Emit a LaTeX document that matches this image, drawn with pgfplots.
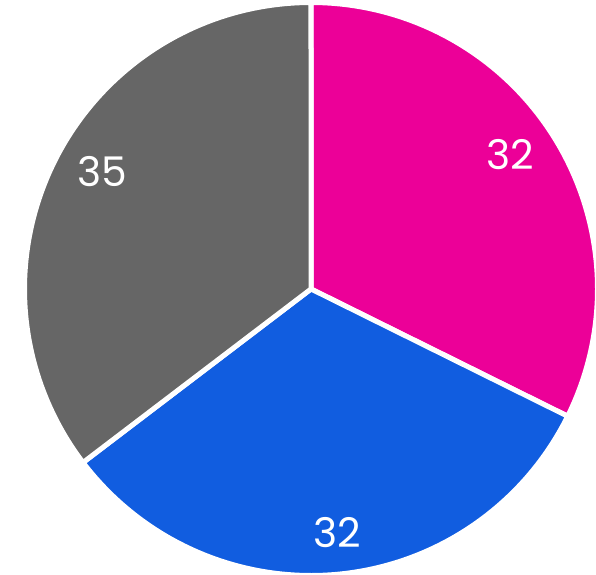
\documentclass[border=0pt]{standalone}
\usepackage{pgfplots}
\pgfplotsset{compat=1.18}
\usepackage{fontspec}
\setmainfont{Poppins}
\definecolor{cmag}{HTML}{EC0098}
\definecolor{cblue}{HTML}{115DE0}
\definecolor{cgray}{HTML}{666666}
\begin{document}
\begin{tikzpicture}
\useasboundingbox (0,0) rectangle (596bp,575bp);
\clip (0,0) rectangle (596bp,575bp);
% data: values of the three slices (clockwise from 12 o'clock)
\def\va{32}\def\vb{32}\def\vc{35}
\pgfmathsetmacro\tot{\va+\vb+\vc}
\pgfmathsetmacro\aA{90}
\pgfmathsetmacro\aB{90-360*\va/\tot}
\pgfmathsetmacro\aC{\aB-360*\vb/\tot}
\pgfmathsetmacro\aD{\aC-360*\vc/\tot}
\pgfmathsetmacro\R{1.0088}
\begin{axis}[
  at={(0,0)}, anchor=south west,
  width=596bp, height=575bp, scale only axis,
  xmin=-1.0951, xmax=1.0035, ymin=-1.0070, ymax=1.0176,
  hide axis, clip=true,
]
\addplot[fill=cmag, draw=white, line width=5bp, domain=\aA:\aB, samples=120, line join=miter]
  ({\R*cos(x)},{\R*sin(x)}) -- (axis cs:0,0) -- cycle;
\addplot[fill=cblue, draw=white, line width=5bp, domain=\aB:\aC, samples=120, line join=miter]
  ({\R*cos(x)},{\R*sin(x)}) -- (axis cs:0,0) -- cycle;
\addplot[fill=cgray, draw=white, line width=5bp, domain=\aC:\aD, samples=120, line join=miter]
  ({\R*cos(x)},{\R*sin(x)}) -- (axis cs:0,0) -- cycle;
\node[text=white, font=\fontsize{41}{41}\selectfont] at (axis cs:0.700,0.472) {\va};
\node[text=white, font=\fontsize{41}{41}\selectfont] at (axis cs:0.092,-0.856) {\vb};
\node[text=white, font=\fontsize{41}{41}\selectfont] at (axis cs:-0.736,0.412) {\vc};
\end{axis}
\end{tikzpicture}
\end{document}
